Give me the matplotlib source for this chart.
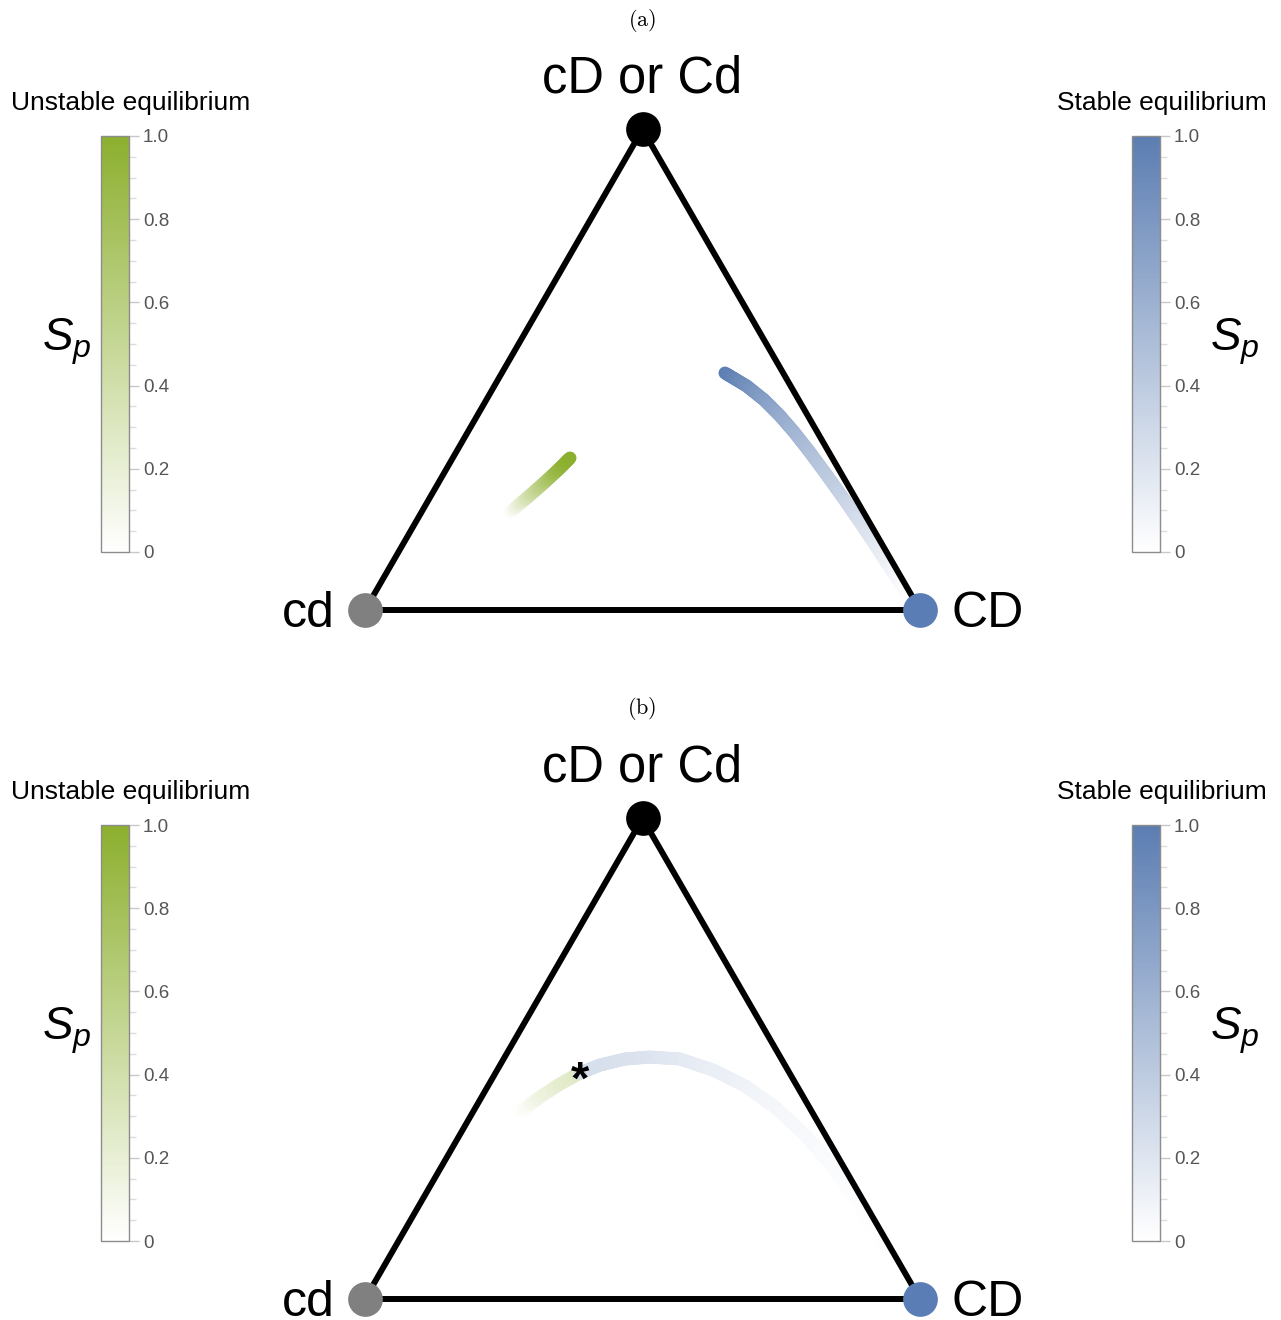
import numpy as np
import matplotlib
matplotlib.use("Agg")
import matplotlib.pyplot as plt
from matplotlib.collections import LineCollection
from matplotlib.colors import LinearSegmentedColormap, Normalize
from matplotlib.cm import ScalarMappable
from matplotlib.ticker import MultipleLocator

plt.rcParams['font.family'] = ['Liberation Sans', 'DejaVu Sans']
plt.rcParams['mathtext.fontset'] = 'custom'
plt.rcParams['mathtext.it'] = 'Liberation Sans:italic'
plt.rcParams['mathtext.rm'] = 'Liberation Sans'

# triangle vertices (cd, CD, cD or Cd)
vert_x = [0.0, 1.0, 0.5]
vert_y = [0.0, 0.0, 0.866]
vert_colors = ['#808080', '#5a7db5', '#000000']

# panel (a): unstable branch (green) and stable branch (blue)
a_green_x = [0.2613, 0.2937, 0.3243, 0.3477, 0.3694]
a_green_y = [0.1766, 0.2036, 0.2306, 0.2523, 0.2739]
a_green_sp = [0.0, 0.35, 0.65, 0.88, 1.0]

a_blue_x = [0.6486, 0.6877, 0.7193, 0.7463, 0.7730, 0.8013, 0.8319, 0.8641,
            0.8951, 0.9252, 0.9546, 0.9834]
a_blue_y = [0.4270, 0.4036, 0.3784, 0.3514, 0.3207, 0.2847, 0.2432, 0.1982,
            0.1532, 0.1081, 0.0631, 0.0180]
a_blue_sp = [1.0, 0.86, 0.75, 0.66, 0.58, 0.5, 0.42, 0.34, 0.25, 0.16, 0.08, 0.0]

# panel (b)
b_green_x = [0.2793, 0.3153, 0.3514, 0.3874]
b_green_y = [0.3369, 0.3640, 0.3874, 0.4072]
b_green_sp = [0.0, 0.13, 0.22, 0.28]

b_blue_x = [0.3874, 0.4234, 0.4685, 0.5135, 0.5676, 0.6270, 0.6847, 0.7387,
            0.7928, 0.8378, 0.8775, 0.9099, 0.9441, 0.9748]
b_blue_y = [0.4072, 0.4216, 0.4324, 0.4360, 0.4324, 0.4126, 0.3838, 0.3459,
            0.2955, 0.2450, 0.1910, 0.1387, 0.0829, 0.0306]
b_blue_sp = [0.26, 0.245, 0.23, 0.21, 0.17, 0.13, 0.10, 0.07,
             0.05, 0.035, 0.02, 0.01, 0.005, 0.0]
star_xy = (0.3874, 0.4072)

cb_ticks = [0, 0.2, 0.4, 0.6, 0.8, 1.0]
cb_labels = ['0', '0.2', '0.4', '0.6', '0.8', '1.0']

green_cmap = LinearSegmentedColormap.from_list('gr', ['#ffffff', '#8caf2e'])
blue_cmap = LinearSegmentedColormap.from_list('bl', ['#ffffff', '#5b7db2'])


def gradient_line(ax, xs, ys, vals, cmap, lw=9.3, nsub=10):
    pts = np.column_stack([xs, ys])
    segs, cols = [], []
    for i in range(len(pts) - 1):
        ts = np.linspace(0, 1, nsub + 1)
        for t0, t1 in zip(ts[:-1], ts[1:]):
            p0 = pts[i] + (pts[i + 1] - pts[i]) * t0
            p1 = pts[i] + (pts[i + 1] - pts[i]) * t1
            segs.append([p0, p1])
            cols.append(vals[i] + (vals[i + 1] - vals[i]) * (t0 + t1) / 2)
    lc = LineCollection(segs, cmap=cmap, norm=Normalize(0, 1), linewidths=lw,
                        capstyle='round', zorder=2)
    lc.set_array(np.array(cols))
    ax.add_collection(lc)


def triangle(ax):
    ax.plot(vert_x + [vert_x[0]], vert_y + [vert_y[0]], color='black', lw=4.3,
            zorder=3, solid_joinstyle='miter')
    for x, y, c in zip(vert_x, vert_y, vert_colors):
        ax.plot(x, y, 'o', ms=25, color=c, mec='none', zorder=4, clip_on=False)
    ax.text(vert_x[0] - 0.055, -0.030, 'cd', fontsize=36, ha='right', va='baseline')
    ax.text(vert_x[1] + 0.057, -0.030, 'CD', fontsize=36, ha='left', va='baseline')
    ax.text(vert_x[2], 0.932, 'cD or Cd', fontsize=36.5, ha='center', va='baseline')
    ax.axis('off')


def colorbar(fig, rect, cmap):
    cax = fig.add_axes(rect)
    cb = fig.colorbar(ScalarMappable(norm=Normalize(0, 1), cmap=cmap), cax=cax)
    cb.set_ticks(cb_ticks)
    cb.set_ticklabels(cb_labels)
    cax.yaxis.set_minor_locator(MultipleLocator(0.05))
    cax.tick_params(which='major', length=7, width=1, color='#c8c8c8',
                    labelcolor='#555555', labelsize=13.5, pad=3)
    cax.tick_params(which='minor', length=5, width=1, color='#dcdcdc')
    cb.outline.set_edgecolor('#8c8c8c')
    cb.outline.set_linewidth(1)
    return cb


W, H = 1281, 1320
fig = plt.figure(figsize=(W / 100, H / 100), dpi=100)

xl = (-365 / 555, 916 / 555)
ax_a = fig.add_axes([0, 0.5, 1, 620 / H])
ax_a.set_xlim(*xl)
ax_a.set_ylim(-50 / 555, 570 / 555)
ax_b = fig.add_axes([0, 0, 1, 591 / H])
ax_b.set_xlim(*xl)
ax_b.set_ylim(-21 / 555, 570 / 555)

gradient_line(ax_a, a_green_x, a_green_y, a_green_sp, green_cmap)
gradient_line(ax_a, a_blue_x, a_blue_y, a_blue_sp, blue_cmap)
triangle(ax_a)

gradient_line(ax_b, b_green_x, b_green_y, b_green_sp, green_cmap)
gradient_line(ax_b, b_blue_x, b_blue_y, b_blue_sp, blue_cmap)
triangle(ax_b)
ax_b.text(star_xy[0], star_xy[1] - 0.015, '*', fontsize=34, fontweight='bold',
          ha='center', va='center', zorder=5)

for top_px, label in [(0, '(a)'), (689, '(b)')]:
    fig.text(642 / W, 1 - (20 + top_px) / H, r'$\mathrm{' + label + '}$',
             math_fontfamily='cm', fontsize=16, ha='center', va='center')
    fig.text(131 / W, 1 - (103 + top_px) / H, 'Unstable equilibrium', fontsize=19,
             ha='center', va='center')
    fig.text(1162 / W, 1 - (103 + top_px) / H, 'Stable equilibrium', fontsize=19,
             ha='center', va='center')
    colorbar(fig, [101 / W, 1 - (552 + top_px) / H, 28 / W, 416 / H], green_cmap)
    colorbar(fig, [1132 / W, 1 - (552 + top_px) / H, 28 / W, 416 / H], blue_cmap)
    fig.text(67 / W, 1 - (342 + top_px) / H, r'$S_p$', fontsize=33,
             ha='center', va='center')
    fig.text(1235 / W, 1 - (342 + top_px) / H, r'$S_p$', fontsize=33,
             ha='center', va='center')

fig.savefig('out.png', dpi=100)
